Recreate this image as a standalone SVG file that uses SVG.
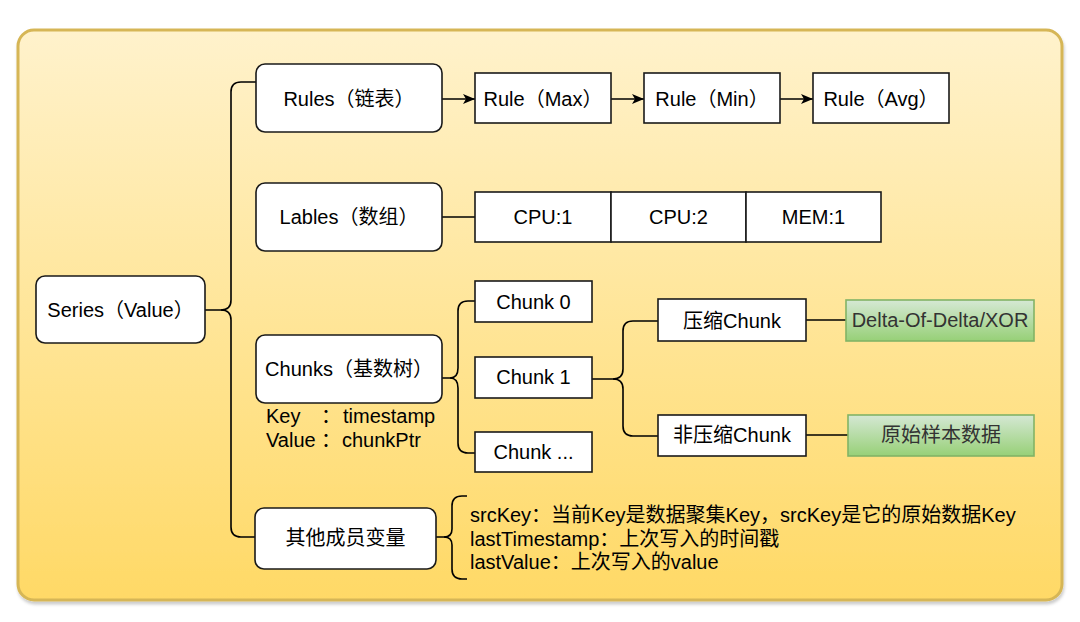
<svg xmlns="http://www.w3.org/2000/svg" width="1080" height="622" viewBox="0 0 1080 622">
  <defs>
    <linearGradient id="bgGrad" x1="0" y1="0" x2="0" y2="1">
      <stop offset="0" stop-color="#fff2cc"/>
      <stop offset="1" stop-color="#ffd966"/>
    </linearGradient>
    <linearGradient id="greenGrad" x1="0" y1="0" x2="0" y2="1">
      <stop offset="0" stop-color="#d5e8d4"/>
      <stop offset="1" stop-color="#97d077"/>
    </linearGradient>
    <filter id="shadow" x="-5%" y="-5%" width="110%" height="112%">
      <feDropShadow dx="1" dy="3" stdDeviation="1.5" flood-color="#000" flood-opacity="0.2"/>
    </filter>
    <marker id="arrow" markerUnits="userSpaceOnUse" markerWidth="12" markerHeight="10" refX="12" refY="5" orient="auto">
      <path d="M0,0 L12,5 L0,10 L3,5 Z" fill="#000"/>
    </marker>
  </defs>
  <style>
    text { font-family: "Liberation Sans", "Noto Sans CJK SC", sans-serif; font-size: 20px; fill: #000; }
    .c { text-anchor: middle; }
    .rnode { fill: #fff; stroke: #1a1a1a; stroke-width: 1.6; }
    .box { fill: #fff; stroke: #1a1a1a; stroke-width: 1.6; }
    .green { fill: url(#greenGrad); stroke: #82b366; stroke-width: 1.6; }
    .green-t { fill: #333; }
    .edge { fill: none; stroke: #000; stroke-width: 1.6; }
  </style>

  <g id="container">
    <rect x="18" y="30" width="1044" height="570" rx="16" ry="16" fill="url(#bgGrad)" stroke="#d6b656" stroke-width="3" filter="url(#shadow)"/>
  </g>

  <g id="connectors">
    <path class="edge" d="M205,310 H221 Q231,310 231,300 V92 Q231,82 241,82 H256"/>
    <path class="edge" d="M221,310 Q231,310 231,320 V527 Q231,537 241,537 H255"/>
    <path class="edge" d="M442,99 H475" marker-end="url(#arrow)"/>
    <path class="edge" d="M611,99 H644" marker-end="url(#arrow)"/>
    <path class="edge" d="M780,99 H813" marker-end="url(#arrow)"/>
    <path class="edge" d="M442,217 H475"/>
    <path class="edge" d="M442,378 H450 Q458,378 458,368 V311 Q458,301 468,301 H475"/>
    <path class="edge" d="M450,378 Q458,378 458,388 V443 Q458,453 468,453 H475"/>
    <path class="edge" d="M592,379 H613 Q623,379 623,369 V331 Q623,321 633,321 H658"/>
    <path class="edge" d="M613,379 Q623,379 623,389 V426 Q623,436 633,436 H658"/>
    <path class="edge" d="M806,320 H846"/>
    <path class="edge" d="M806,435 H848"/>
    <path class="edge" d="M436,537 H444 Q452,537 452,529 V506 Q452,496 462,496 H467"/>
    <path class="edge" d="M444,537 Q452,537 452,545 V569 Q452,579 462,579 H467"/>
  </g>

  <g id="series">
    <rect class="rnode" x="36" y="276" width="169" height="67" rx="9"/>
    <text class="c" x="120.5" y="317">Series（Value）</text>
  </g>
  <g id="rules">
    <rect class="rnode" x="256" y="64" width="186" height="68" rx="9"/>
    <text class="c" x="349" y="106">Rules（链表）</text>
  </g>
  <g id="rule-max">
    <rect class="box" x="475" y="73" width="136" height="50"/>
    <text class="c" x="543" y="106">Rule（Max）</text>
  </g>
  <g id="rule-min">
    <rect class="box" x="644" y="73" width="136" height="50"/>
    <text class="c" x="712" y="106">Rule（Min）</text>
  </g>
  <g id="rule-avg">
    <rect class="box" x="813" y="73" width="136" height="50"/>
    <text class="c" x="881" y="106">Rule（Avg）</text>
  </g>
  <g id="lables">
    <rect class="rnode" x="256" y="183" width="186" height="68" rx="9"/>
    <text class="c" x="349" y="224">Lables（数组）</text>
  </g>
  <g id="cpu1">
    <rect class="box" x="475" y="192" width="136" height="50"/>
    <text class="c" x="543" y="224">CPU:1</text>
  </g>
  <g id="cpu2">
    <rect class="box" x="611" y="192" width="135" height="50"/>
    <text class="c" x="678.5" y="224">CPU:2</text>
  </g>
  <g id="mem1">
    <rect class="box" x="746" y="192" width="135" height="50"/>
    <text class="c" x="813.5" y="224">MEM:1</text>
  </g>
  <g id="chunks">
    <rect class="rnode" x="256" y="335" width="186" height="68" rx="9"/>
    <text class="c" x="349" y="376">Chunks（基数树）</text>
    <text x="266" y="423">Key<tspan x="321">：</tspan><tspan x="343">timestamp</tspan></text>
    <text x="266" y="447">Value<tspan x="321">：</tspan><tspan x="342">chunkPtr</tspan></text>
  </g>
  <g id="chunk0">
    <rect class="box" x="475" y="281" width="117" height="41"/>
    <text class="c" x="533.5" y="309">Chunk 0</text>
  </g>
  <g id="chunk1">
    <rect class="box" x="475" y="357" width="117" height="41"/>
    <text class="c" x="533.5" y="384">Chunk 1</text>
  </g>
  <g id="chunk-more">
    <rect class="box" x="475" y="432" width="117" height="40"/>
    <text class="c" x="533.5" y="459">Chunk ...</text>
  </g>
  <g id="compressed">
    <rect class="box" x="658" y="299" width="148" height="42"/>
    <text class="c" x="732" y="328">压缩Chunk</text>
  </g>
  <g id="uncompressed">
    <rect class="box" x="658" y="415" width="148" height="41"/>
    <text class="c" x="732" y="442">非压缩Chunk</text>
  </g>
  <g id="delta">
    <rect class="green" x="846" y="300" width="188" height="41"/>
    <text class="c green-t" x="940" y="327">Delta-Of-Delta/XOR</text>
  </g>
  <g id="raw">
    <rect class="green" x="848" y="415" width="186" height="41"/>
    <text class="c green-t" x="941" y="442">原始样本数据</text>
  </g>
  <g id="others">
    <rect class="rnode" x="255" y="508" width="181" height="61" rx="9"/>
    <text class="c" x="345.5" y="545">其他成员变量</text>
  </g>
  <g id="members-text">
    <text x="470" y="522">srcKey：当前Key是数据聚集Key，srcKey是它的原始数据Key</text>
    <text x="470" y="546">lastTimestamp：上次写入的时间戳</text>
    <text x="470" y="569">lastValue：上次写入的value</text>
  </g>
</svg>
